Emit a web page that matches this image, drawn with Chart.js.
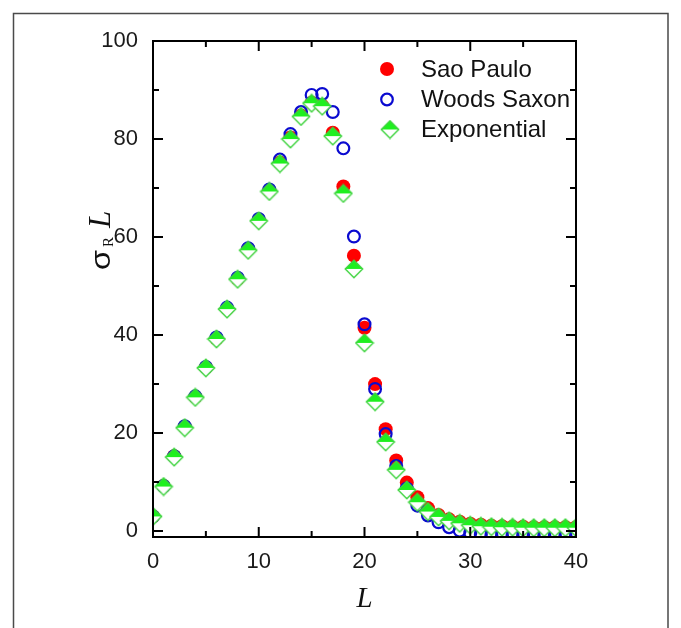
<!DOCTYPE html>
<html><head><meta charset="utf-8">
<script src="https://cdn.jsdelivr.net/npm/chart.js@4.4.1/dist/chart.umd.min.js"></script>
<style>html,body{margin:0;padding:0;background:#fff;overflow:hidden}canvas{display:block}</style>
</head><body>
<canvas id="c" width="681" height="628"></canvas>
<script>
// ---- data ----
const L = [0,1,2,3,4,5,6,7,8,9,10,11,12,13,14,15,16,17,18,19,20,21,22,23,24,25,26,27,28,29,30,31,32,33,34,35,36,37,38,39,40];
const saoPaulo = [3.0,9.2,15.3,21.3,27.4,33.4,39.3,45.4,51.5,57.5,63.5,69.5,75.2,80.3,84.8,87.4,86.8,81.3,70.3,56.2,41.5,30.0,20.8,14.4,9.9,6.9,4.7,3.3,2.4,1.9,1.5,1.3,1.1,1.0,0.9,0.9,0.8,0.8,0.8,0.8,0.8];
const woodsSaxon = [3.0,9.2,15.3,21.4,27.5,33.5,39.5,45.6,51.7,57.7,63.7,69.7,75.8,81.0,85.5,89.0,89.2,85.5,78.1,60.1,42.2,29.0,19.8,13.3,8.7,5.2,3.2,1.8,0.8,0.1,-0.4,-0.7,-0.9,-0.9,-0.9,-0.9,-0.9,-0.9,-0.9,-0.9,-0.9];
const exponential = [3.0,9.1,15.1,21.1,27.3,33.3,39.2,45.3,51.4,57.3,63.3,69.3,75.0,80.0,84.6,87.3,86.7,80.6,68.9,53.5,38.4,26.4,18.2,12.5,8.4,5.9,4.0,2.9,2.1,1.6,1.2,1.0,0.9,0.8,0.8,0.7,0.7,0.7,0.7,0.7,0.7];
const seriesNames = ['Sao Paulo','Woods Saxon','Exponential'];
const xTicks = [0,10,20,30,40];
const xMinor = [5,15,25,35];
const yTicks = [0,20,40,60,80,100];
const yMinor = [10,30,50,70,90];

// ---- half-filled diamond marker ----
function makeDiamond(){
  const c = document.createElement('canvas');
  c.width = 20; c.height = 20;
  const g = c.getContext('2d');
  const cx = 10, cy = 10, hw = 8.7, hh = 8.7;
  g.beginPath(); g.moveTo(cx-hw,cy); g.lineTo(cx,cy+hh); g.lineTo(cx+hw,cy); g.closePath();
  g.fillStyle = '#ffffff'; g.fill();
  g.beginPath(); g.moveTo(cx-hw,cy); g.lineTo(cx,cy-hh); g.lineTo(cx+hw,cy); g.closePath();
  g.fillStyle = '#1ef01e'; g.fill();
  g.beginPath(); g.moveTo(cx-hw,cy); g.lineTo(cx,cy-hh); g.lineTo(cx+hw,cy); g.lineTo(cx,cy+hh); g.closePath();
  g.strokeStyle = '#3fd43f'; g.lineWidth = 1.4; g.stroke();
  return c;
}
const diamond = makeDiamond();

const pts = arr => L.map((x,i)=>({x:x, y:arr[i]}));

const deco = {
  id:'deco',
  beforeDraw(chart){
    const ctx = chart.ctx;
    ctx.save();
    ctx.fillStyle = '#fff'; ctx.fillRect(0,0,chart.width,chart.height);
    ctx.strokeStyle = '#4a4a4a'; ctx.lineWidth = 1.5;
    ctx.beginPath(); ctx.moveTo(13.5,640); ctx.lineTo(13.5,13.5); ctx.lineTo(668,13.5); ctx.lineTo(668,640); ctx.stroke();
    ctx.restore();
  },
  afterDraw(chart){
    const ctx = chart.ctx, a = chart.chartArea;
    const xs = chart.scales.x, ys = chart.scales.y;
    ctx.save();
    ctx.strokeStyle = '#000'; ctx.lineWidth = 2;
    ctx.strokeRect(a.left, a.top, a.right-a.left, a.bottom-a.top);
    ctx.beginPath();
    const tick = (v, len, isX) => {
      if (isX) {
        const p = xs.getPixelForValue(v);
        ctx.moveTo(p, a.bottom); ctx.lineTo(p, a.bottom-len);
        ctx.moveTo(p, a.top); ctx.lineTo(p, a.top+len);
      } else {
        const p = ys.getPixelForValue(v);
        ctx.moveTo(a.left, p); ctx.lineTo(a.left+len, p);
        ctx.moveTo(a.right, p); ctx.lineTo(a.right-len, p);
      }
    };
    xTicks.forEach(v=>tick(v,10,true));
    xMinor.forEach(v=>tick(v,6,true));
    yTicks.forEach(v=>tick(v,10,false));
    yMinor.forEach(v=>tick(v,6,false));
    ctx.stroke();

    // x title
    ctx.fillStyle = '#111';
    ctx.font = 'italic 29px "Liberation Serif", "Times New Roman", serif';
    ctx.textAlign = 'center'; ctx.textBaseline = 'alphabetic';
    ctx.fillText('L', (a.left+a.right)/2, 607);

    // y title (rotated)
    ctx.save();
    ctx.translate(110, 270);
    ctx.rotate(-Math.PI/2);
    ctx.textAlign = 'left';
    ctx.font = '27px "Liberation Sans", Arial, sans-serif';
    const sw = ctx.measureText('σ').width;
    ctx.save(); ctx.scale(20/sw, 1); ctx.fillText('σ', 0, 0); ctx.restore();
    ctx.font = '15px "Liberation Serif", "Times New Roman", serif';
    ctx.fillText('R', 23, 3);
    ctx.font = 'italic 31px "Liberation Serif", "Times New Roman", serif';
    ctx.fillText('L', 42, 0);
    ctx.restore();

    // legend
    const rows = [69, 99.5, 129.5];
    ctx.font = '24px "Liberation Sans", Arial, sans-serif';
    ctx.textBaseline = 'middle'; ctx.textAlign = 'left';
    ctx.beginPath(); ctx.arc(387, rows[0], 7, 0, Math.PI*2); ctx.fillStyle = '#ff0000'; ctx.fill();
    ctx.beginPath(); ctx.arc(387, rows[1], 5.8, 0, Math.PI*2); ctx.strokeStyle = '#0a0ad0'; ctx.lineWidth = 2.2; ctx.stroke();
    ctx.drawImage(diamond, 390-10, rows[2]-10);
    ctx.fillStyle = '#111';
    seriesNames.forEach((n,i)=>ctx.fillText(n, 421, rows[i]+1));
    ctx.restore();
  }
};

new Chart(document.getElementById('c'), {
  type:'scatter',
  data:{ datasets:[
    { label:seriesNames[0], data:pts(saoPaulo), pointStyle:'circle', pointRadius:7, pointHoverRadius:7,
      backgroundColor:'#ff0000', borderColor:'#ff0000', borderWidth:0, order:3, clip:0 },
    { label:seriesNames[1], data:pts(woodsSaxon), pointStyle:'circle', pointRadius:5.9, pointHoverRadius:5.9,
      backgroundColor:'rgba(0,0,0,0)', borderColor:'#0a0ad0', borderWidth:2.2, order:2, clip:0 },
    { label:seriesNames[2], data:pts(exponential), pointStyle:diamond, pointRadius:9, pointHoverRadius:9,
      backgroundColor:'#1ef01e', borderColor:'#3fd43f', order:1, clip:0 }
  ]},
  options:{
    responsive:false, animation:false, devicePixelRatio:1,
    layout:{ padding:{ left:0, top:41, right:105, bottom:0 } },
    plugins:{ legend:{display:false}, tooltip:{enabled:false} },
    scales:{
      x:{ type:'linear', min:0, max:40,
        afterBuildTicks:s=>{ s.ticks = xTicks.map(v=>({value:v})); },
        afterFit:s=>{ s.height = 91; },
        grid:{display:false, drawTicks:false}, border:{display:false},
        ticks:{ padding:12, color:'#1a1a1a', font:{family:'"Liberation Sans", Arial, sans-serif', size:22} } },
      y:{ type:'linear', min:-1.2, max:100,
        afterBuildTicks:s=>{ s.ticks = yTicks.map(v=>({value:v})); },
        afterFit:s=>{ s.width = 153; },
        grid:{display:false, drawTicks:false}, border:{display:false},
        ticks:{ padding:15, color:'#1a1a1a', font:{family:'"Liberation Sans", Arial, sans-serif', size:22} } }
    }
  },
  plugins:[deco]
});
</script>
</body></html>
